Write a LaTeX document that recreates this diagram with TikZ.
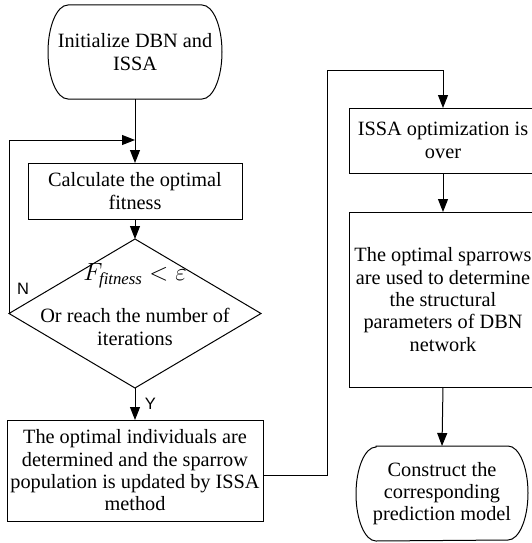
\documentclass[tikz,border=0pt]{standalone}
\usepackage{fontspec}
\setmainfont{Liberation Serif}
\newfontfamily\labelfont{Liberation Sans}
\usetikzlibrary{arrows.meta, shapes.geometric}

\begin{document}
\begin{tikzpicture}[
  x=1pt, y=1pt,
  block/.style = {draw, line width=1pt, align=center, inner sep=0pt, outer sep=0pt},
  term/.style = {minimum height=94pt, align=center, inner sep=0pt, outer sep=0pt},
  decision/.style = {draw, diamond, line width=1pt, minimum width=252pt, minimum height=149pt, inner sep=0pt, outer sep=0pt},
  arrow/.style = {line width=1pt, -{Triangle[length=13pt, width=10pt]}},
  yn/.style = {font=\labelfont\fontsize{16.5}{18}\selectfont},
  font=\fontsize{20.3}{22.3}\selectfont
]
\useasboundingbox (0,0) rectangle (532,-543);

% Start terminal
\node[term, minimum width=174pt] (start) at (135,-52) {Initialize DBN and\\ ISSA};

% Fitness block
\node[block, minimum width=214pt, minimum height=56pt] (calc) at (135,-191) {Calculate the optimal\\ fitness};

% Stop condition
\node[decision] (dec) at (135,-313.5) {};
\node (ftext) at (135,-276) {\fontsize{24}{26}\selectfont$F_{\mathit{fitness}} < \varepsilon$};
\node[align=center] (dectext) at (135,-327) {Or reach the number of\\ iterations};

% Update block
\node[block, minimum width=256pt, minimum height=101pt] (bot) at (135,-470.5) {The optimal individuals are\\ determined and the sparrow\\ population is updated by ISSA\\ method};

% Right column
\node[block, minimum width=188pt, minimum height=65pt] (issa) at (443,-140.5) {ISSA optimization is\\ over};
\node[block, minimum width=188pt, minimum height=175pt] (opt) at (443,-299.5) {The optimal sparrows\\ are used to determine\\ the structural\\ parameters of DBN\\ network};
\node[term, minimum width=172pt, minimum height=95pt] (stop) at (442,-493.5) {Construct the\\ corresponding\\ prediction model};

% Terminal outlines
\foreach \n in {start,stop}
  \draw[line width=1pt] ([xshift=20pt]\n.north west) -- ([xshift=-20pt]\n.north east)
    arc[start angle=90, end angle=-90, x radius=20pt, y radius=47pt]
    -- ([xshift=20pt]\n.south west)
    arc[start angle=270, end angle=90, x radius=20pt, y radius=47pt] -- cycle;

\coordinate (join) at (135,-140);
\coordinate (turn) at (327,-70);

% Connectors
\draw[arrow] (start.south) -- (calc.north);
\draw[arrow] (calc.south) -- (dec.north);
\draw[arrow] (dec.west) |- (join);
\node[yn] (nlabel) at (23,-289) {N};
\draw[arrow] (dec.south) -- node[yn, right, xshift=6pt] (ylabel) {Y} (bot.north);
\draw[arrow] ([yshift=-5pt]bot.east) -| (turn) -| (issa.north);
\draw[arrow] (issa.south) -- (opt.north);
\draw[arrow] (opt.south) -- (stop.north);

\end{tikzpicture}
\end{document}
